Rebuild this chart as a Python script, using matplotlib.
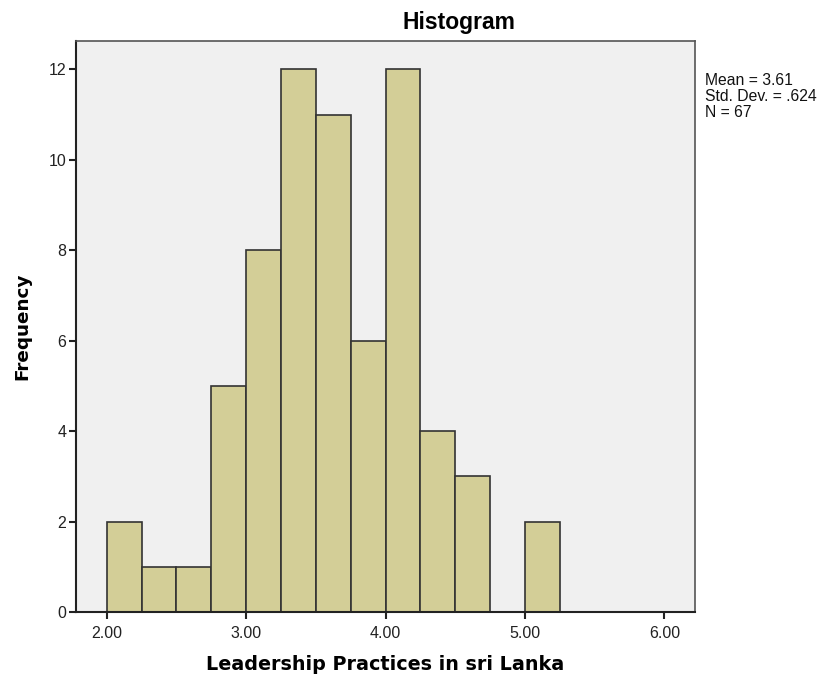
import matplotlib
matplotlib.use('Agg')
import matplotlib.pyplot as plt
import numpy as np

plt.rcParams['font.family'] = ['Liberation Sans', 'DejaVu Sans']

# 直方图数据（宽度 0.25 的区间）
bin_edges = [2.00, 2.25, 2.50, 2.75, 3.00, 3.25, 3.50, 3.75, 4.00, 4.25, 4.50, 4.75, 5.00, 5.25]
counts = [2, 1, 1, 5, 8, 12, 11, 6, 12, 4, 3, 0, 2]
x_ticks = [2.00, 3.00, 4.00, 5.00, 6.00]
y_ticks = [0, 2, 4, 6, 8, 10, 12]
stats_text = "Mean = 3.61\nStd. Dev. = .624\nN = 67"

fig = plt.figure(figsize=(8.24, 6.78), dpi=100)
ax = fig.add_axes([76 / 824, 66 / 678, 619 / 824, 571 / 678])
ax.set_facecolor('#f0f0f0')

lefts = np.array(bin_edges[:-1])
widths = np.diff(bin_edges)
ax.bar(lefts, counts, width=widths, align='edge', color='#d3ce97',
       edgecolor='#333333', linewidth=1.2, zorder=2)

ax.set_xlim(1.78, 6.22)
ax.set_ylim(0, 12.63)
ax.set_xticks(x_ticks)
ax.set_xticklabels(['%.2f' % v for v in x_ticks])
ax.set_yticks(y_ticks)
ax.tick_params(axis='both', direction='out', length=5, width=1.5, labelsize=11.5,
               color='#222222', labelcolor='#222222')
ax.tick_params(axis='x', pad=5)
ax.tick_params(axis='y', pad=2)

for side in ['left', 'bottom']:
    ax.spines[side].set_linewidth(1.5)
    ax.spines[side].set_color('#222222')
for side in ['top', 'right']:
    ax.spines[side].set_linewidth(1.2)
    ax.spines[side].set_color('#555555')

# 标题居中位置略偏右（与原图一致）
fig.text(459 / 824, 1 - 23 / 678, 'Histogram', fontsize=16.5, fontweight='bold',
         ha='center', va='center')
ax.set_xlabel('Leadership Practices in sri Lanka', fontsize=13.8, fontweight='bold',
              labelpad=10, family='DejaVu Sans')
ax.set_ylabel('Frequency', fontsize=13.2, fontweight='bold', labelpad=12, family='DejaVu Sans')

fig.text(705 / 824, 1 - 73 / 678, stats_text, fontsize=11.3, va='top', ha='left',
         linespacing=1.07, color='#111111')

plt.savefig('out.png', dpi=100)
